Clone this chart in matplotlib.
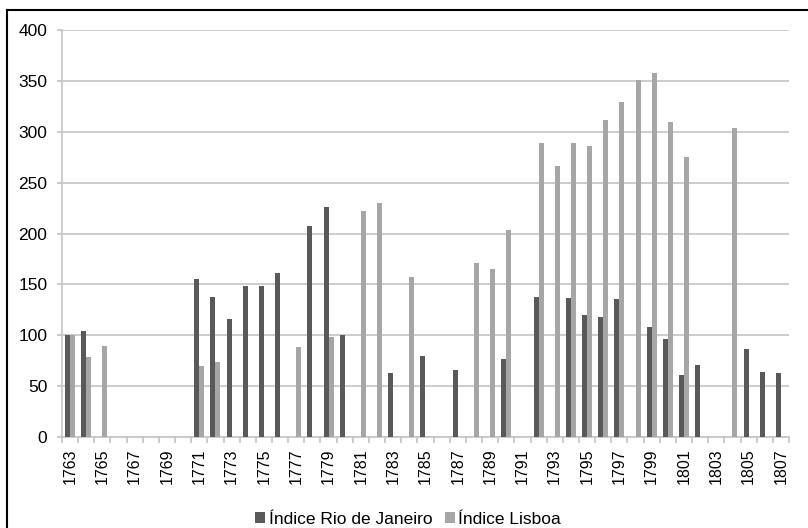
import numpy as np
import matplotlib
matplotlib.use("Agg")
import matplotlib.pyplot as plt
from matplotlib.lines import Line2D

plt.rcParams['font.family'] = ['Liberation Sans', 'DejaVu Sans']

years = list(range(1763, 1808))
# None = no value for that year
rio = [100, 104, None, None, None, None, None, None, 155, 138,
       116, 148, 148, 161, None, 207, 226, 100, None, None,
       63, None, 80, None, 66, None, None, 77, None, 138,
       None, 137, 120, 118, 136, None, 108, 96, 61, 71,
       None, None, 87, 64, 63]
lisboa = [100, 79, 89, None, None, None, None, None, 70, 74,
          None, None, None, None, 88, None, 98, None, 222, 230,
          None, 157, None, None, None, 171, 165, 203, None, 289,
          266, 289, 286, 312, 329, 351, 358, 310, 275, None,
          None, 304, None, None, None]
y_ticks = [0, 50, 100, 150, 200, 250, 300, 350, 400]

rio_v = np.array([np.nan if v is None else v for v in rio], dtype=float)
lis_v = np.array([np.nan if v is None else v for v in lisboa], dtype=float)
x = np.arange(len(years))

fig = plt.figure(figsize=(8.08, 5.28), dpi=100)
ax = fig.add_axes([0.0767, 0.1723, 0.8998, 0.7708])

w = 0.31
ax.bar(x - w / 2, rio_v, width=w, color='#595959', label='Índice Rio de Janeiro', zorder=3)
ax.bar(x + w / 2, lis_v, width=w, color='#a6a6a6', label='Índice Lisboa', zorder=3)

ax.set_xlim(-0.5, len(years) - 0.5)
ax.set_ylim(0, 400)
ax.set_yticks(y_ticks)
ax.yaxis.grid(True, color='#c8c8c8', linewidth=1.3, zorder=0)
ax.tick_params(axis='y', length=3.5, width=1.3, color='#c8c8c8', labelsize=12.5, pad=7)

ax.set_xticks(x[::2])
ax.set_xticklabels([str(y) for y in years[::2]], rotation=90, fontsize=11.5)
ax.set_xticks(np.arange(-0.5, len(years), 1), minor=True)
ax.tick_params(axis='x', which='major', length=0, pad=8)
ax.tick_params(axis='x', which='minor', length=4, width=1.3, color='#c8c8c8')

for s in ['top', 'right']:
    ax.spines[s].set_visible(False)
for s in ['left', 'bottom']:
    ax.spines[s].set_color('#c8c8c8')
    ax.spines[s].set_linewidth(1.3)

fig.legend(loc='center', bbox_to_anchor=(0.505, 0.016), ncol=2, frameon=False,
           fontsize=12.5, handlelength=0.6, handleheight=0.6, handletextpad=0.2,
           columnspacing=0.7)

# chart border (only left and top edges are visible in the crop)
fx = 7 / 808
fy = 1 - 10 / 528
fig.lines.append(Line2D([fx, fx], [0, fy], transform=fig.transFigure, color='black', linewidth=1.5))
fig.lines.append(Line2D([fx, 1], [fy, fy], transform=fig.transFigure, color='black', linewidth=1.5))

fig.savefig('out.png', dpi=100)
